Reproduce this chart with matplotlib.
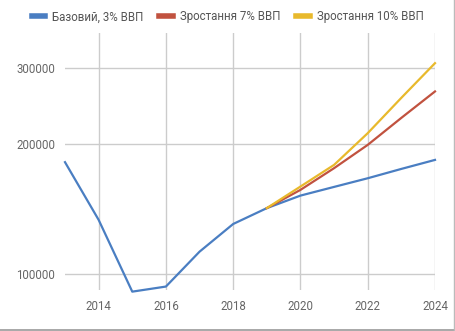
import matplotlib.pyplot as plt
from matplotlib.ticker import FixedLocator, NullLocator

plt.rcParams["font.family"] = ["Roboto", "DejaVu Sans"]

years = list(range(2013, 2025))
base = [181400, 133400, 91000, 93500, 112600, 130500, 142000, 151800, 159000, 166500, 175000, 183600]
proj_years = list(range(2019, 2025))
growth7 = [142000, 156500, 175700, 198900, 229700, 264400]
growth10 = [142000, 159300, 178800, 211700, 255600, 307400]

labels = ["Базовий, 3% ВВП", "Зростання 7% ВВП", "Зростання 10% ВВП"]
colors = ["#4a7ec2", "#c1523f", "#e8b92c"]

fig = plt.figure(figsize=(4.55, 3.31), dpi=100)
ax = fig.add_axes([65 / 455, 41 / 331, 370 / 455, 257 / 331])

ax.plot(years, base, color=colors[0], lw=1.6, label=labels[0], zorder=3, clip_on=False)
ax.plot(proj_years, growth7, color=colors[1], lw=1.6, label=labels[1], zorder=4, clip_on=False)
ax.plot(proj_years, growth10, color=colors[2], lw=1.6, label=labels[2], zorder=5, clip_on=False)

ax.set_yscale("log")
ax.set_xlim(2013, 2024)
ax.set_ylim(91800, 361000)
ax.yaxis.set_major_locator(FixedLocator([100000, 200000, 300000]))
ax.yaxis.set_minor_locator(NullLocator())
ax.set_yticklabels(["100000", "200000", "300000"])
ax.set_xticks([2014, 2016, 2018, 2020, 2022, 2024])

ax.grid(True, color="#cccccc", lw=1)
ax.set_axisbelow(True)
for s in ax.spines.values():
    s.set_visible(False)
ax.tick_params(length=0, labelsize=8.3, colors="#666666")
ax.tick_params(axis="y", pad=7)
ax.tick_params(axis="x", pad=7)

leg = fig.legend(loc="upper center", bbox_to_anchor=(0.5, 1.0), ncol=3, frameon=False,
                 fontsize=8.3, handlelength=1.2, handletextpad=0.6, columnspacing=1.35)
for h in leg.get_lines():
    h.set_linewidth(4)
for t in leg.get_texts():
    t.set_color("#555555")

# frame on bottom and right edge
fig.add_artist(plt.Line2D([0, 1], [0.003, 0.003], color="#999999", lw=1.2, transform=fig.transFigure))
fig.add_artist(plt.Line2D([0.998, 0.998], [0, 1], color="#bbbbbb", lw=1.0, transform=fig.transFigure))

fig.savefig("out.png", dpi=100)
